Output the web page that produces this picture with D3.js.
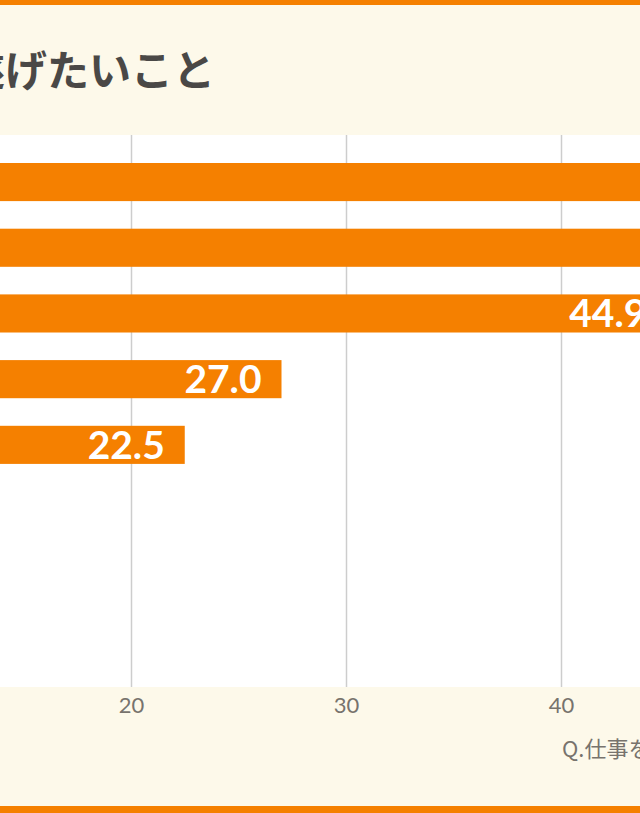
<!DOCTYPE html>
<html>
<head>
<meta charset="utf-8">
<script src="https://cdn.jsdelivr.net/npm/d3@7"></script>
<style>
  html, body { margin: 0; padding: 0; background: #fdf9ea; }
  svg { display: block; }
</style>
</head>
<body>
<script>
// ---- data ----
const title = "遂げたいこと";
const footnote = "Q.仕事を通じて成し遂げたいこと";
const categories = ["項目1", "項目2", "項目3", "項目4", "項目5"];
const values = [57.9, 52.2, 44.9, 27.0, 22.5];
const tickValues = [20, 30, 40];

// ---- layout ----
const W = 640, H = 813;
const plotTop = 135, plotBottom = 687;
const orange = "#f58000";
const cream = "#fdf9ea";

const svg = d3.select("body").append("svg").attr("width", W).attr("height", H);

svg.append("rect").attr("x", 0).attr("y", 0).attr("width", W).attr("height", H).attr("fill", cream);
svg.append("rect").attr("x", 0).attr("y", 0).attr("width", W).attr("height", 5).attr("fill", orange);
svg.append("rect").attr("x", 0).attr("y", 806).attr("width", W).attr("height", 7).attr("fill", orange);
svg.append("rect").attr("x", 0).attr("y", plotTop).attr("width", W).attr("height", plotBottom - plotTop).attr("fill", "#ffffff");

// title
svg.append("text")
  .attr("x", 215).attr("y", 86)
  .attr("text-anchor", "end")
  .attr("font-family", "'Noto Sans CJK JP', sans-serif")
  .attr("font-weight", 700)
  .attr("font-size", 42)
  .attr("fill", "#4a4846")
  .text(title);

// scales
const x = d3.scaleLinear().domain([0, 60]).range([-299, -299 + 60 * 21.5]);
const step = 65.7;
const y = d3.scaleBand().domain(categories)
  .range([163 - step * 0.21, 163 - step * 0.21 + categories.length * step])
  .paddingInner(0.42).paddingOuter(0.21);

// axis + gridlines
const axis = d3.axisBottom(x).tickValues(tickValues)
  .tickSize(-(plotBottom - plotTop)).tickPadding(10).tickFormat(d3.format("d"));
const gAxis = svg.append("g").attr("transform", `translate(0,${plotBottom})`).call(axis);
gAxis.select(".domain").remove();
gAxis.selectAll(".tick line").attr("stroke", "#cdcdcd").attr("stroke-width", 1.5);
gAxis.selectAll(".tick text")
  .attr("font-family", "Lato, sans-serif")
  .attr("font-size", 22)
  .attr("fill", "#77736d");

// bars
const rows = categories.map((c, i) => ({ c, v: values[i] }));
svg.append("g").selectAll("rect").data(rows).join("rect")
  .attr("x", x(0))
  .attr("y", d => y(d.c))
  .attr("width", d => x(d.v) - x(0))
  .attr("height", y.bandwidth())
  .attr("fill", orange);

// value labels
svg.append("g").selectAll("text").data(rows).join("text")
  .attr("x", d => x(d.v) - 20)
  .attr("y", d => y(d.c) + y.bandwidth() / 2 + 14)
  .attr("text-anchor", "end")
  .attr("font-family", "Lato, sans-serif")
  .attr("font-weight", 700)
  .attr("font-size", 39)
  .attr("fill", "#ffffff")
  .text(d => d3.format(".1f")(d.v));

// footnote
svg.append("text")
  .attr("x", 562).attr("y", 757)
  .attr("font-family", "'Noto Sans CJK JP', sans-serif")
  .attr("font-size", 22)
  .attr("fill", "#77736d")
  .text(footnote);
</script>
</body>
</html>
